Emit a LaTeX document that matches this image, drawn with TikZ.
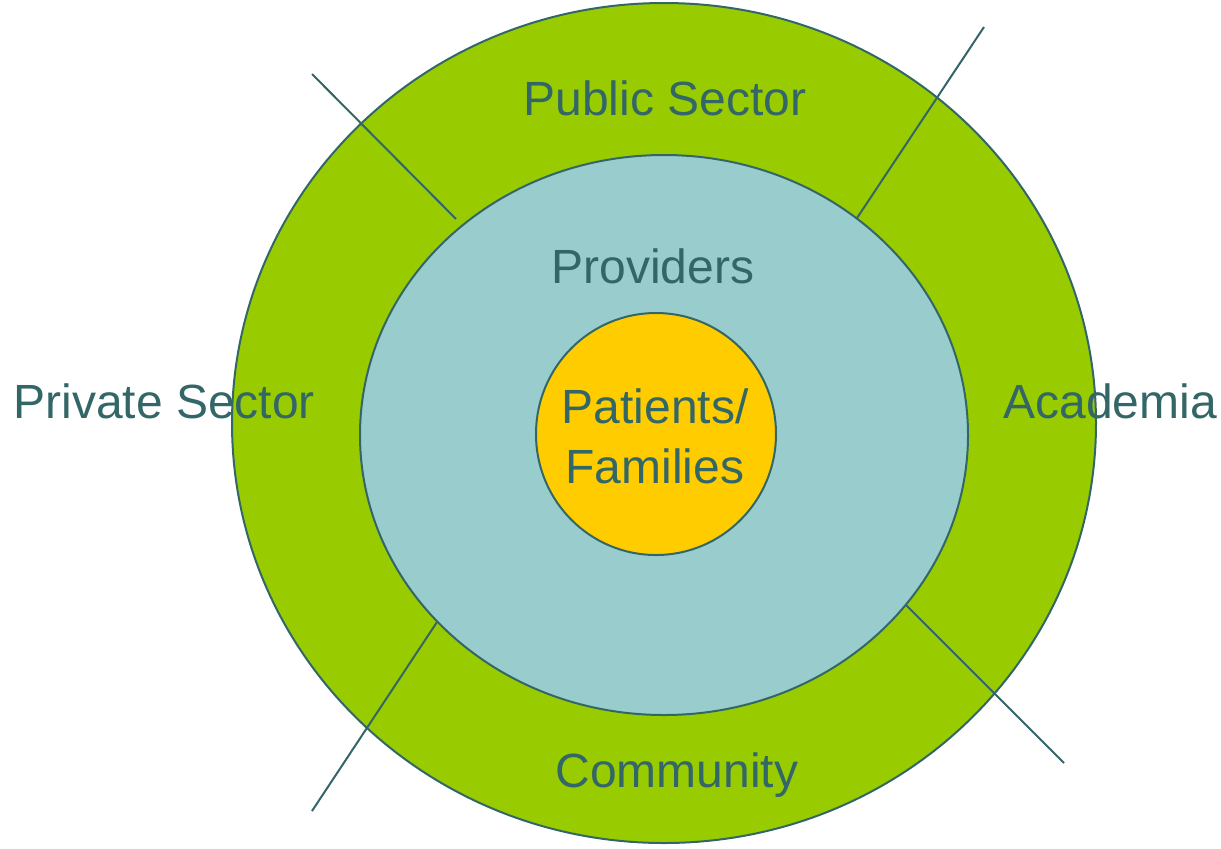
\documentclass[tikz,border=0pt]{standalone}
\usepackage{fontspec}
\setmainfont{Liberation Sans}
\usetikzlibrary{shapes.geometric}
\definecolor{ringgreen}{HTML}{99CC00}
\definecolor{ringblue}{HTML}{99CCCC}
\definecolor{coreyellow}{HTML}{FFCC00}
\definecolor{ink}{HTML}{336666}
\tikzset{
  ring/.style={ellipse, draw=ink, line width=1pt, inner sep=0pt},
  lbl/.style={text=ink, font=\fontsize{24}{30}\selectfont, anchor=base, inner sep=0pt, align=center},
  divider/.style={draw=ink, line width=1pt}
}
\begin{document}
\begin{tikzpicture}[x=0.5pt, y=-0.5pt]
\useasboundingbox (0,0) rectangle (1221,848);
\node[ring, fill=ringgreen, minimum width=432pt, minimum height=420pt] (outer) at (664,423) {};
\coordinate (l1a) at (312,74);   \coordinate (l1b) at (456,219);
\coordinate (l2a) at (984,27);   \coordinate (l2b) at (857,218);
\coordinate (l3a) at (312,811);  \coordinate (l3b) at (439,619);
\coordinate (l4a) at (1064,763); \coordinate (l4b) at (904,603);
\draw[divider] (l1a) -- (l1b);
\draw[divider] (l2a) -- (l2b);
\draw[divider] (l3a) -- (l3b);
\draw[divider] (l4a) -- (l4b);
\node[ring, fill=ringblue, minimum width=304pt, minimum height=280pt] (middle) at (664,435) {};
\node[ring, fill=coreyellow, minimum width=120pt, minimum height=121pt] (inner) at (656,434) {};
\node[lbl] (public) at (665,115) {Public Sector};
\node[lbl] (providers) at (653,283) {Providers};
\node[lbl, anchor=base west] (private) at (13,418) {Private Sector};
\node[lbl, anchor=base west] (academia) at (1003,418) {Academia};
\node[lbl] (community) at (677,787) {Community};
\node[lbl] (patients) at (655,423) {Patients/};
\node[lbl] (families) at (655,483) {Families};
\end{tikzpicture}
\end{document}
